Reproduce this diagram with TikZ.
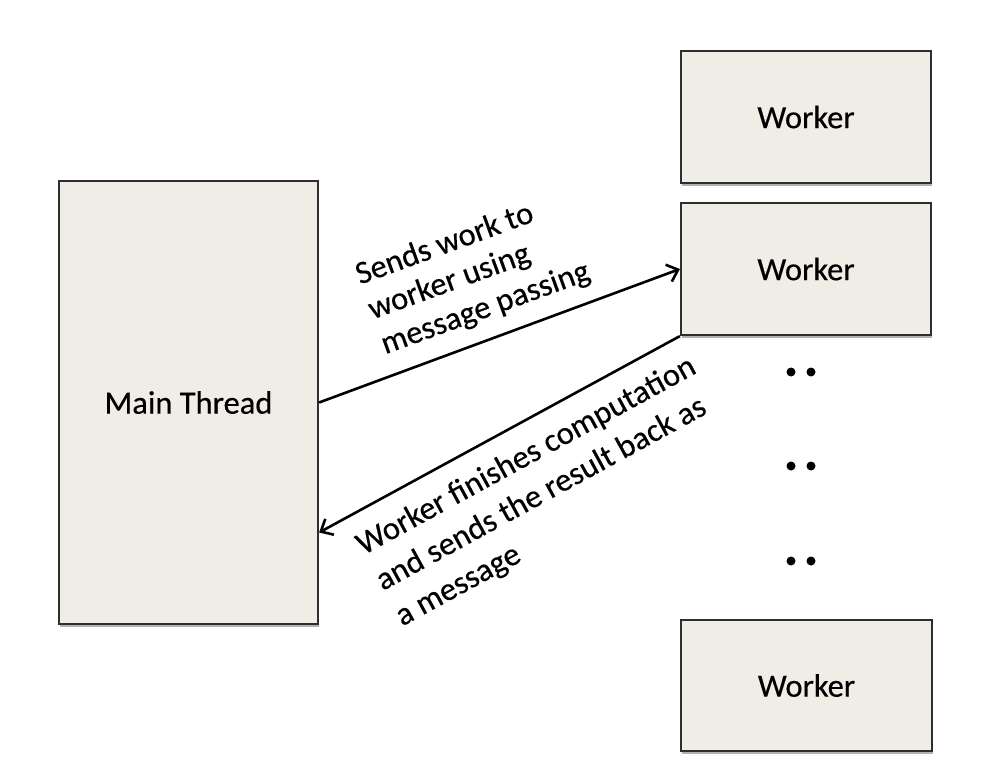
\documentclass[tikz,border=0pt]{standalone}
\usepackage{fontspec}
\setmainfont[FakeBold=0.4]{Carlito}
\usetikzlibrary{arrows.meta,shadows}
\definecolor{boxfill}{HTML}{F0EDE6}
\definecolor{boxline}{HTML}{2E2E2E}
\tikzset{
  boxnode/.style={draw=boxline, line width=2.2pt, fill=boxfill, inner sep=0pt,
    font=\fontsize{32.5pt}{39pt}\selectfont,
    drop shadow={shadow xshift=0.5pt, shadow yshift=-2.5pt, opacity=0.3, fill=black}},
  msg/.style={draw=black, line width=2.6pt, -{Straight Barb[length=10pt,width=18pt,line width=2.6pt]}},
  lbl/.style={align=left, inner sep=0pt},
  dotmark/.style={fill=black, draw=none, circle, minimum size=9pt, inner sep=0pt}
}
\begin{document}
\begin{tikzpicture}[x=1pt,y=-1pt]
\useasboundingbox (0,0) rectangle (1002,784);
\node[boxnode, minimum width=259pt, minimum height=443pt] (main) at (188.5,402.5) {Main Thread};
\node[boxnode, minimum width=250pt, minimum height=132pt] (w1) at (806,117) {Worker};
\node[boxnode, minimum width=250pt, minimum height=132pt] (w2) at (806,269) {Worker};
\node[boxnode, minimum width=251pt, minimum height=131pt] (w3) at (806.5,685.5) {Worker};
\coordinate (m2) at ([yshift=-130pt]main.east);
\draw[msg] (main.east) -- (w2.west);
\draw[msg] (w2.south west) -- (m2);
\node[lbl, rotate=20, font=\fontsize{32.5pt}{37pt}\selectfont] (l1) at (473,274) {Sends work to\\worker using\\message passing};
\node[lbl, rotate=28.7, font=\fontsize{32.5pt}{40.5pt}\selectfont] (l2) at (546,492) {Worker finishes computation\\and sends the result back as\\a message};
\foreach \y [count=\i] in {372,466,561}{
  \node[dotmark] (da\i) at (791,\y) {};
  \node[dotmark] (db\i) at (811,\y) {};
}
\end{tikzpicture}
\end{document}
